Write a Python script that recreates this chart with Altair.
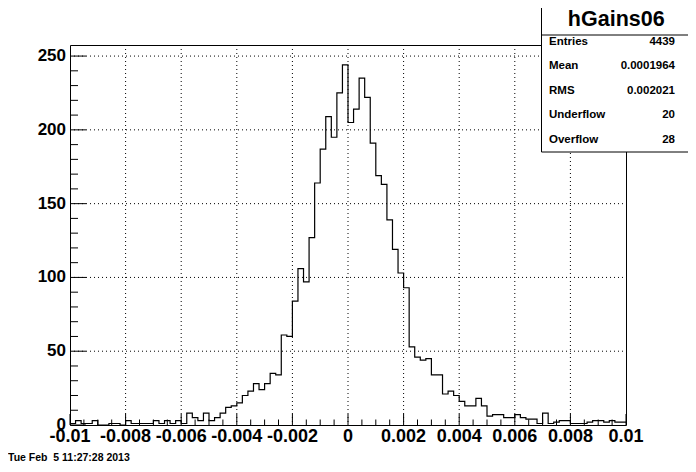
import altair as alt
import numpy as np
import pandas as pd

# ---------------- data ----------------
x_min, x_max, n_bins = -0.01, 0.01, 100
counts = [
    # -0.010 .. -0.006
    1, 3, 1, 1, 3, 0, 0, 1, 1, 0, 3, 1, 1, 1, 1, 3, 1, 3, 1, 3,
    # -0.006 .. -0.002
    1, 8, 5, 3, 8, 3, 5, 8, 12, 13, 15, 20, 23, 28, 24, 28, 35, 34, 61, 60,
    # -0.002 .. 0.002
    84, 106, 97, 127, 164, 187, 209, 195, 225, 244,
    205, 214, 235, 222, 191, 169, 163, 139, 119, 103,
    # 0.002 .. 0.006
    93, 53, 46, 44, 45, 34, 34, 21, 23, 20, 16, 13, 13, 18, 13, 6, 7, 7, 5, 5,
    # 0.006 .. 0.010
    7, 5, 4, 4, 1, 8, 1, 2, 3, 3, 1, 1, 1, 2, 3, 3, 2, 3, 2, 2,
]
x_tick_values = [-0.01, -0.008, -0.006, -0.004, -0.002, 0.0, 0.002, 0.004, 0.006, 0.008, 0.01]
x_tick_labels = ["-0.01", "-0.008", "-0.006", "-0.004", "-0.002", "0",
                 "0.002", "0.004", "0.006", "0.008", "0.01"]
y_tick_values = [0, 50, 100, 150, 200, 250]
y_tick_labels = ["0", "50", "100", "150", "200", "250"]

stat_title = "hGains06"
stat_names = ["Entries", "Mean", "RMS", "Underflow", "Overflow"]
stat_values = ["4439", "0.0001964", "0.002021", "20", "28"]
date_text = "Tue Feb\u00a0 5 11:27:28 2013"

# ---------------- layout ----------------
W, H = 556, 380
FONT = "Liberation Sans"
y_top = 257.5

edges = np.linspace(x_min, x_max, n_bins + 1)
hist_df = pd.DataFrame({"x": edges, "y": counts + [counts[-1]]})

xs = alt.Scale(domain=[x_min, x_max], nice=False, zero=False)
ys = alt.Scale(domain=[0, y_top], nice=False, zero=False)

one = pd.DataFrame({"a": [0]})

# gridlines
xgrid_df = pd.DataFrame({"v": x_tick_values[1:-1]})
ygrid_df = pd.DataFrame({"v": y_tick_values[1:]})
grid_x = alt.Chart(xgrid_df).mark_rule(color="black", strokeDash=[1, 3], strokeWidth=1).encode(
    x=alt.X("v:Q", scale=xs, axis=None), y=alt.value(0), y2=alt.value(H))
grid_y = alt.Chart(ygrid_df).mark_rule(color="black", strokeDash=[1, 3], strokeWidth=1).encode(
    y=alt.Y("v:Q", scale=ys, axis=None), x=alt.value(0), x2=alt.value(W))

# histogram outline
hist = alt.Chart(hist_df).mark_line(interpolate="step-after", color="black", strokeWidth=1.2).encode(
    x=alt.X("x:Q", scale=xs, axis=None), y=alt.Y("y:Q", scale=ys, axis=None))

# ticks
xmaj = pd.DataFrame({"v": x_tick_values})
xmin_vals = [v for v in np.round(np.arange(x_min, x_max + 1e-9, 0.0005), 6)
             if not np.any(np.isclose(v, x_tick_values))]
xmin_df = pd.DataFrame({"v": xmin_vals})
ymaj = pd.DataFrame({"v": y_tick_values})
ymin_vals = [v for v in range(0, 251, 10) if v % 50 != 0]
ymin_df = pd.DataFrame({"v": ymin_vals})

tick_xmaj = alt.Chart(xmaj).mark_rule(color="black").encode(
    x=alt.X("v:Q", scale=xs, axis=None), y=alt.value(H), y2=alt.value(H - 11))
tick_xmin = alt.Chart(xmin_df).mark_rule(color="black").encode(
    x=alt.X("v:Q", scale=xs, axis=None), y=alt.value(H), y2=alt.value(H - 5.5))
tick_ymaj = alt.Chart(ymaj).mark_rule(color="black").encode(
    y=alt.Y("v:Q", scale=ys, axis=None), x=alt.value(0), x2=alt.value(16))
tick_ymin = alt.Chart(ymin_df).mark_rule(color="black").encode(
    y=alt.Y("v:Q", scale=ys, axis=None), x=alt.value(0), x2=alt.value(8))

# axis labels
xlab_df = pd.DataFrame({"v": x_tick_values, "t": x_tick_labels})
ylab_df = pd.DataFrame({"v": y_tick_values, "t": y_tick_labels})
xlabels = alt.Chart(xlab_df).mark_text(font=FONT, fontWeight="bold", fontSize=18, align="center",
                                       baseline="middle", color="black").encode(
    x=alt.X("v:Q", scale=xs, axis=None), y=alt.value(H + 12), text="t:N")
ylabels = alt.Chart(ylab_df).mark_text(font=FONT, fontWeight="bold", fontSize=17, align="right",
                                       baseline="middle", color="black").encode(
    y=alt.Y("v:Q", scale=ys, axis=None), x=alt.value(-4), text="t:N")

# stats box
bx0, bx1, by0, bsep, by1 = 471.5, 621, -45, -10, 107
box_bg = alt.Chart(one).mark_rect(fill="white").encode(
    x=alt.value(bx0), x2=alt.value(bx1), y=alt.value(by0), y2=alt.value(by1))
box_lines = [
    alt.Chart(one).mark_rule(color="black").encode(x=alt.value(bx0), y=alt.value(by0), y2=alt.value(by1)),
    alt.Chart(one).mark_rule(color="black").encode(x=alt.value(bx1), y=alt.value(by0), y2=alt.value(by1)),
    alt.Chart(one).mark_rule(color="black").encode(x=alt.value(bx0), x2=alt.value(bx1), y=alt.value(bsep)),
    alt.Chart(one).mark_rule(color="black").encode(x=alt.value(bx0), x2=alt.value(bx1), y=alt.value(by1)),
]
title_txt = alt.Chart(one).mark_text(font=FONT, fontWeight="bold", fontSize=21.5, align="center",
                                     baseline="middle", color="black", text=stat_title).encode(
    x=alt.value((bx0 + bx1) / 2), y=alt.value(-25.5))
stat_layers = []
for i, (nm, val) in enumerate(zip(stat_names, stat_values)):
    yy = -3.5 + i * 24.6
    stat_layers.append(alt.Chart(one).mark_text(font=FONT, fontWeight="bold", fontSize=11.5, align="left",
                                                baseline="middle", color="black", text=nm).encode(
        x=alt.value(479), y=alt.value(yy)))
    stat_layers.append(alt.Chart(one).mark_text(font=FONT, fontWeight="bold", fontSize=11.5, align="right",
                                                baseline="middle", color="black", text=val).encode(
        x=alt.value(605), y=alt.value(yy)))

date = alt.Chart(one).mark_text(font=FONT, fontWeight="bold", fontSize=10.5, align="left",
                                baseline="middle", color="black", text=date_text).encode(
    x=alt.value(-62), y=alt.value(412.5))

chart = alt.layer(
    grid_x, grid_y, hist, tick_xmaj, tick_xmin, tick_ymaj, tick_ymin,
    xlabels, ylabels, box_bg, *box_lines, title_txt, *stat_layers, date
).properties(
    width=W, height=H,
    autosize=alt.AutoSizeParams(type="none"),
    padding={"left": 62, "top": 37, "right": 62, "bottom": 39},
    background="white",
).configure_view(stroke="black", strokeWidth=1)

chart.save("out.html", embed_options={"renderer": "svg", "actions": False})
